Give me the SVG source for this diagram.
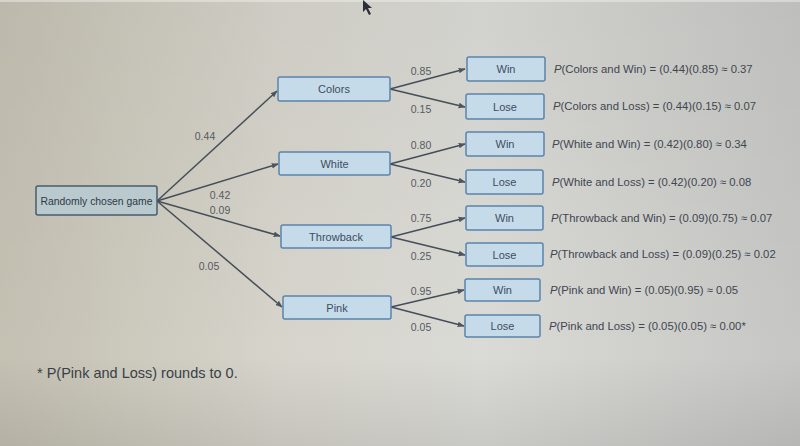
<svg xmlns="http://www.w3.org/2000/svg" width="800" height="446" viewBox="0 0 800 446">
<defs>
<linearGradient id="bg" x1="0" y1="0" x2="1" y2="0">
<stop offset="0" stop-color="#c4c0b2"/>
<stop offset="0.35" stop-color="#d6d4cb"/>
<stop offset="0.6" stop-color="#dadad6"/>
<stop offset="1" stop-color="#c6c7c4"/>
</linearGradient>
<linearGradient id="shade" x1="0" y1="0" x2="0" y2="1">
<stop offset="0" stop-color="#000" stop-opacity="0.04"/>
<stop offset="0.8" stop-color="#000" stop-opacity="0"/>
<stop offset="1" stop-color="#000" stop-opacity="0.08"/>
</linearGradient>
<marker id="arr" viewBox="0 0 10 10" refX="9" refY="5" markerWidth="7" markerHeight="7" orient="auto" markerUnits="userSpaceOnUse">
<path d="M0,1 L10,5 L0,9 z" fill="#4a5560"/>
</marker>
<style>
.node rect{fill:#c5dbea;stroke:#5b84aa;stroke-width:1.5}
.root rect{fill:#b9c9cd;stroke:#455e6e;stroke-width:1.5}
.nt{font-family:"Liberation Sans",Arial,sans-serif;font-size:11px;fill:#3d4d60;text-anchor:middle}
.lbl{font-family:"Liberation Sans",Arial,sans-serif;font-size:10.5px;fill:#555a60;text-anchor:middle}
.f{font-family:"Liberation Sans",Arial,sans-serif;font-size:11.3px;fill:#3f4650}
.c line{stroke:#454e58;stroke-width:1.5;marker-end:url(#arr)}
</style>
</defs>
<rect width="800" height="446" fill="url(#bg)"/>
<rect width="800" height="446" fill="url(#shade)"/>
<line x1="0" y1="1" x2="800" y2="1" stroke="#eeeeea" stroke-width="1"/>
<path d="M363,0 L363,12 L366,9 L369,15 L371,14 L368,8 L372,8 Z" fill="#2a2f36"/>

<g id="connectors" class="c">
<line x1="157" y1="201" x2="277" y2="91"/>
<line x1="157" y1="201" x2="278" y2="164"/>
<line x1="157" y1="201" x2="280" y2="236"/>
<line x1="157" y1="201" x2="282" y2="307"/>
<line x1="390" y1="89" x2="465" y2="69"/>
<line x1="390" y1="89" x2="465" y2="107"/>
<line x1="390" y1="164" x2="465" y2="144"/>
<line x1="390" y1="164" x2="465" y2="182"/>
<line x1="391" y1="237" x2="465" y2="218"/>
<line x1="391" y1="237" x2="465" y2="255"/>
<line x1="391" y1="307" x2="464" y2="290"/>
<line x1="391" y1="307" x2="464" y2="326"/>
</g>

<g id="edge-labels">
<text class="lbl" x="205" y="140">0.44</text>
<text class="lbl" x="220" y="199">0.42</text>
<text class="lbl" x="220" y="214">0.09</text>
<text class="lbl" x="209" y="270">0.05</text>
<text class="lbl" x="421" y="75">0.85</text>
<text class="lbl" x="421" y="113">0.15</text>
<text class="lbl" x="421" y="149">0.80</text>
<text class="lbl" x="421" y="187">0.20</text>
<text class="lbl" x="421" y="222">0.75</text>
<text class="lbl" x="421" y="260">0.25</text>
<text class="lbl" x="421" y="295">0.95</text>
<text class="lbl" x="421" y="331">0.05</text>
</g>

<g id="root" class="root"><rect x="36" y="186" width="121" height="29" rx="2"/><text class="nt" x="96.5" y="204.5" style="fill:#2f3a45;font-size:10.4px">Randomly chosen game</text></g>
<g id="colors" class="node"><rect x="278" y="77" width="112" height="24" rx="2"/><text class="nt" x="334" y="93">Colors</text></g>
<g id="white" class="node"><rect x="279" y="152" width="111" height="23" rx="2"/><text class="nt" x="334.5" y="167.5">White</text></g>
<g id="throwback" class="node"><rect x="281" y="225" width="110" height="23" rx="2"/><text class="nt" x="336" y="240.5">Throwback</text></g>
<g id="pink" class="node"><rect x="283" y="296" width="108" height="23" rx="2"/><text class="nt" x="337" y="311.5">Pink</text></g>

<g id="colors-win" class="node"><rect x="467" y="57" width="78" height="24" rx="2"/><text class="nt" x="506" y="73">Win</text></g>
<g id="colors-lose" class="node"><rect x="466" y="94" width="78" height="25" rx="2"/><text class="nt" x="505" y="110.5">Lose</text></g>
<g id="white-win" class="node"><rect x="466" y="132" width="78" height="24" rx="2"/><text class="nt" x="505" y="148">Win</text></g>
<g id="white-lose" class="node"><rect x="466" y="170" width="77" height="24" rx="2"/><text class="nt" x="504.5" y="186">Lose</text></g>
<g id="throwback-win" class="node"><rect x="466" y="206" width="77" height="24" rx="2"/><text class="nt" x="504.5" y="222">Win</text></g>
<g id="throwback-lose" class="node"><rect x="466" y="243" width="77" height="23" rx="2"/><text class="nt" x="504.5" y="258.5">Lose</text></g>
<g id="pink-win" class="node"><rect x="465" y="279" width="75" height="22" rx="2"/><text class="nt" x="502.5" y="294">Win</text></g>
<g id="pink-lose" class="node"><rect x="465" y="315" width="75" height="22" rx="2"/><text class="nt" x="502.5" y="330">Lose</text></g>

<g id="formulas">
<text class="f" x="554" y="73"><tspan font-style="italic">P</tspan>(Colors and Win) = (0.44)(0.85) ≈ 0.37</text>
<text class="f" x="553" y="110"><tspan font-style="italic">P</tspan>(Colors and Loss) = (0.44)(0.15) ≈ 0.07</text>
<text class="f" x="552" y="148"><tspan font-style="italic">P</tspan>(White and Win) = (0.42)(0.80) ≈ 0.34</text>
<text class="f" x="552" y="186"><tspan font-style="italic">P</tspan>(White and Loss) = (0.42)(0.20) ≈ 0.08</text>
<text class="f" x="551" y="222"><tspan font-style="italic">P</tspan>(Throwback and Win) = (0.09)(0.75) ≈ 0.07</text>
<text class="f" x="550" y="258"><tspan font-style="italic">P</tspan>(Throwback and Loss) = (0.09)(0.25) ≈ 0.02</text>
<text class="f" x="550" y="294"><tspan font-style="italic">P</tspan>(Pink and Win) = (0.05)(0.95) ≈ 0.05</text>
<text class="f" x="549" y="330"><tspan font-style="italic">P</tspan>(Pink and Loss) = (0.05)(0.05) ≈ 0.00*</text>
</g>

<text x="37" y="378" font-family="'Liberation Sans',Arial,sans-serif" font-size="14.5" fill="#3a3f46">* P(Pink and Loss) rounds to 0.</text>
</svg>
